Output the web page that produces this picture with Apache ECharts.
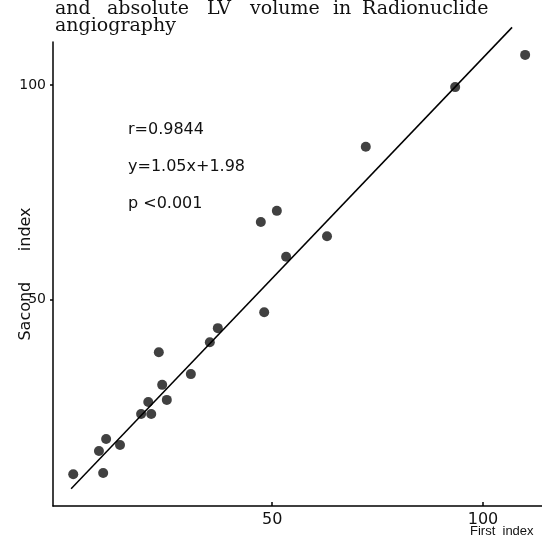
<!DOCTYPE html>
<html>
<head>
<meta charset="utf-8">
<script src="https://cdn.jsdelivr.net/npm/echarts@6.0.0/dist/echarts.min.js"></script>
<style>
  html, body { margin: 0; padding: 0; background: #fff; }
  #chart { width: 542px; height: 540px; }
</style>
</head>
<body>
<div id="chart"></div>
<script>
// first index / second index pairs
const firstIndex = [2.8, 9.9, 8.9, 10.6, 13.9, 18.9, 20.6, 21.3, 25.0, 23.9, 23.1,
  30.7, 35.2, 37.1, 48.1, 53.3, 63.0, 47.3, 51.1, 72.2, 93.4, 110.0]
const secondIndex = [9.4, 9.7, 14.8, 17.6, 16.2, 23.4, 26.2, 23.4, 26.7, 30.2, 37.8,
  32.7, 40.1, 43.4, 47.1, 60.0, 64.8, 68.1, 70.7, 85.6, 99.5, 107.0]

// regression line end points as drawn
const lineX = [2.3, 106.9]
const lineY = [6.0, 113.4]

const tickValues = [50, 100]

const titleWords = ['and', 'absolute', 'LV', 'volume', 'in', 'Radionuclide']
const titleWordX = [55, 107, 207, 250, 333, 362]
const statLines = ['r=0.9844', 'y=1.05x+1.98', 'p <0.001']

const chart = echarts.init(document.getElementById('chart'))

const serif = '19px "DejaVu Serif"'
const graphics = titleWords.map((w, i) => ({
  type: 'text', x: titleWordX[i], y: 0,
  style: { text: w, font: serif, fill: '#111' }
}))
graphics.push({
  type: 'text', x: 55, y: 17,
  style: { text: 'angiography', font: serif, fill: '#111' }
})
statLines.forEach((t, i) => {
  graphics.push({
    type: 'text', x: 128, y: 130 + i * 37,
    style: { text: t, font: '16px "DejaVu Sans"', fill: '#111', verticalAlign: 'middle', textVerticalAlign: 'middle' }
  })
})

const axisLineStyle = { color: '#000', width: 1.5 }

chart.setOption({
  animation: false,
  graphic: graphics,
  grid: { left: 53, right: 0, top: 42, bottom: 34, outerBoundsMode: 'none', containLabel: false },
  xAxis: {
    type: 'value',
    min: -2,
    max: 114,
    name: 'First  index',
    nameLocation: 'end',
    nameGap: -72,
    nameMoveOverlap: false,
    nameTextStyle: {
      fontFamily: 'Liberation Sans', fontSize: 13, color: '#111',
      align: 'left', verticalAlign: 'top', padding: [19, 0, 0, 0]
    },
    splitLine: { show: false },
    axisLine: { show: true, onZero: false, lineStyle: axisLineStyle },
    axisTick: { show: true, inside: true, length: 4, customValues: tickValues, lineStyle: axisLineStyle },
    axisLabel: { customValues: tickValues, fontFamily: 'DejaVu Sans', fontSize: 16, color: '#111', margin: 6 }
  },
  yAxis: {
    type: 'value',
    min: 2,
    max: 110,
    name: 'Sacond      index',
    nameLocation: 'middle',
    nameRotate: 90,
    nameGap: 19,
    nameMoveOverlap: false,
    nameTextStyle: { fontFamily: 'DejaVu Sans', fontSize: 16, color: '#111' },
    splitLine: { show: false },
    axisLine: { show: true, onZero: false, lineStyle: axisLineStyle },
    axisTick: { show: true, length: 3, customValues: tickValues, lineStyle: axisLineStyle },
    axisLabel: { customValues: tickValues, fontFamily: 'DejaVu Sans', fontSize: 14, color: '#111', margin: 7 }
  },
  series: [
    {
      type: 'line',
      data: lineX.map((x, i) => [x, lineY[i]]),
      symbol: 'none',
      clip: false,
      lineStyle: { color: '#000', width: 1.5 }
    },
    {
      type: 'scatter',
      data: firstIndex.map((x, i) => [x, secondIndex[i]]),
      symbol: 'circle',
      symbolSize: 10,
      itemStyle: { color: '#111' }
    }
  ]
})
</script>
</body>
</html>
